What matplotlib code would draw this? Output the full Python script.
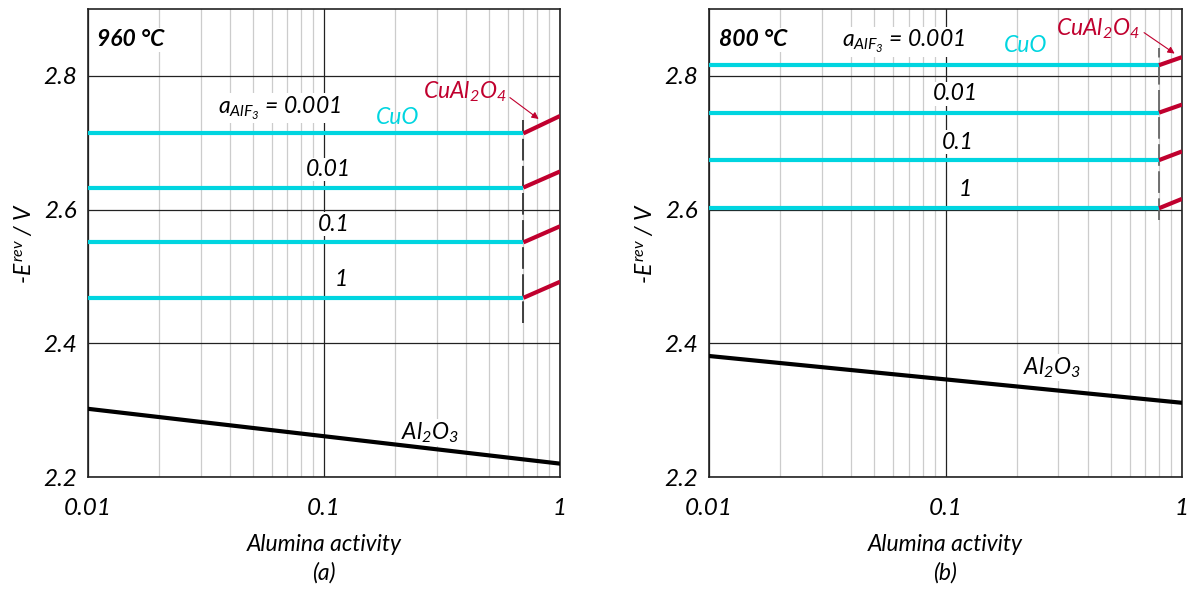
import numpy as np
import matplotlib
matplotlib.use("Agg")
import matplotlib.pyplot as plt
from matplotlib.ticker import FixedLocator, LogLocator, NullFormatter

FONT = "Lato"
plt.rcParams["font.family"] = [FONT, "DejaVu Sans"]
plt.rcParams["font.style"] = "italic"
plt.rcParams["mathtext.fontset"] = "custom"
plt.rcParams["mathtext.it"] = FONT + ":italic"
plt.rcParams["mathtext.rm"] = FONT + ":italic"
plt.rcParams["mathtext.default"] = "it"

# ---------------- data ----------------
aalf3_labels = ["0.001", "0.01", "0.1", "1"]
x_range = [0.01, 1.0]

# 960 C
cuo_960 = [2.714, 2.633, 2.551, 2.468]
cual2o4_960_end = [2.740, 2.657, 2.575, 2.492]
trans_960 = 0.7
al2o3_960 = [2.302, 2.220]

# 800 C
cuo_800 = [2.816, 2.745, 2.674, 2.602]
cual2o4_800_end = [2.828, 2.757, 2.687, 2.616]
trans_800 = 0.8
al2o3_800 = [2.381, 2.311]

CYAN = "#00D5E0"
RED = "#C0002E"
W, H = 1193, 589

fig = plt.figure(figsize=(W / 100, H / 100), dpi=100)


def ax_rect(l, r, t, b):
    return [l / W, 1 - b / H, (r - l) / W, (b - t) / H]


axA = fig.add_axes(ax_rect(88, 560, 9, 477))
axB = fig.add_axes(ax_rect(709, 1182, 9, 477))

bbox_w = dict(facecolor="white", edgecolor="none", pad=1.0)
fs = 16.5
TZ = 2.5  # labels above the grid, below the curves


def setup(ax):
    ax.set_xscale("log")
    ax.set_xlim(0.01, 1)
    ax.set_ylim(2.2, 2.9)
    ax.xaxis.set_major_locator(FixedLocator([0.01, 0.1, 1]))
    ax.xaxis.set_minor_locator(LogLocator(base=10, subs=np.arange(2, 10)))
    ax.xaxis.set_minor_formatter(NullFormatter())
    ax.set_xticks([0.01, 0.1, 1])
    ax.set_xticklabels(["0.01", "0.1", "1"])
    ax.set_yticks([2.2, 2.4, 2.6, 2.8])
    ax.set_yticklabels(["2.2", "2.4", "2.6", "2.8"])
    ax.tick_params(axis="both", which="both", length=0, labelsize=17.5)
    ax.tick_params(axis="x", pad=15)
    ax.tick_params(axis="y", pad=8)
    ax.grid(True, which="minor", axis="x", color="#cccccc", lw=0.9, zorder=0)
    ax.grid(True, which="major", axis="x", color="#222222", lw=0.9, zorder=0)
    ax.grid(True, which="major", axis="y", color="#222222", lw=0.9, zorder=0)
    for s in ax.spines.values():
        s.set_color("#222222")
        s.set_linewidth(1.2)
    ax.set_xlabel("Alumina activity", fontsize=fs, labelpad=11)
    ax.set_ylabel(r"-$E^{rev}$ / V", fontsize=fs, labelpad=5)


def draw(ax, cuo, cual_end, trans, al2o3, dash_lim, dash_col):
    for y0, y1 in zip(cuo, cual_end):
        ax.plot([x_range[0], trans], [y0, y0], color=CYAN, lw=3, solid_capstyle="butt", zorder=3)
        ax.plot([trans, x_range[1]], [y0, y1], color=RED, lw=3, solid_capstyle="butt", zorder=3)
    ax.plot(x_range, al2o3, color="black", lw=3, zorder=3)
    ax.plot([trans, trans], dash_lim, color=dash_col, lw=1.3, ls=(0, (12, 3)), zorder=2)


setup(axA)
setup(axB)
draw(axA, cuo_960, cual2o4_960_end, trans_960, al2o3_960, [2.431, 2.734], "#333333")
draw(axB, cuo_800, cual2o4_800_end, trans_800, al2o3_800, [2.585, 2.842], "#666666")

# panel a texts
axA.text(0.019, 0.934, "960 °C", transform=axA.transAxes, fontsize=fs, fontweight="bold",
         va="center", ha="left", bbox=bbox_w, zorder=TZ)
axA.text(0.0356, 2.752, r"$a_{AlF_3}$ = 0.001", fontsize=fs, va="center", ha="left", bbox=bbox_w, zorder=TZ)
axA.text(0.1655, 2.738, "CuO", color=CYAN, fontsize=fs, va="center", ha="left", zorder=4)
axA.text(0.262, 2.776, r"CuAl$_2$O$_4$", color=RED, fontsize=fs, va="center", ha="left", zorder=4)
axA.annotate("", xy=(0.83, 2.733), xytext=(0.60, 2.770),
             arrowprops=dict(arrowstyle="-|>", color=RED, lw=0.8, mutation_scale=10), zorder=4)
for lab, xx, yy in zip(aalf3_labels[1:], [0.1045, 0.1096, 0.1186], [2.660, 2.578, 2.4955]):
    axA.text(xx, yy, lab, fontsize=fs, va="center", ha="center", bbox=bbox_w, zorder=TZ)
axA.text(0.2113, 2.267, r"Al$_2$O$_3$", fontsize=fs, va="center", ha="left", bbox=bbox_w, zorder=TZ)

# panel b texts
axB.text(0.021, 0.934, "800 °C", transform=axB.transAxes, fontsize=fs, fontweight="bold",
         va="center", ha="left", bbox=bbox_w, zorder=TZ)
axB.text(0.0365, 2.851, r"$a_{AlF_3}$ = 0.001", fontsize=fs, va="center", ha="left", bbox=bbox_w, zorder=TZ)
axB.text(0.1766, 2.846, "CuO", color=CYAN, fontsize=fs, va="center", ha="left", zorder=4)
axB.text(0.294, 2.870, r"CuAl$_2$O$_4$", color=RED, fontsize=fs, va="center", ha="left", zorder=4)
axB.annotate("", xy=(0.952, 2.831), xytext=(0.676, 2.867),
             arrowprops=dict(arrowstyle="-|>", color=RED, lw=0.8, mutation_scale=10), zorder=4)
for lab, xx, yy in zip(aalf3_labels[1:], [0.110, 0.113, 0.1216], [2.773, 2.701, 2.630]):
    axB.text(xx, yy, lab, fontsize=fs, va="center", ha="center", bbox=bbox_w, zorder=TZ)
axB.text(0.213, 2.3635, r"Al$_2$O$_3$", fontsize=fs, va="center", ha="left", bbox=bbox_w, zorder=TZ)

fig.text(324 / W, 1 - 573 / H, "(a)", fontsize=fs, ha="center", va="center")
fig.text(945 / W, 1 - 573 / H, "(b)", fontsize=fs, ha="center", va="center")

fig.savefig("out.png", dpi=100)
